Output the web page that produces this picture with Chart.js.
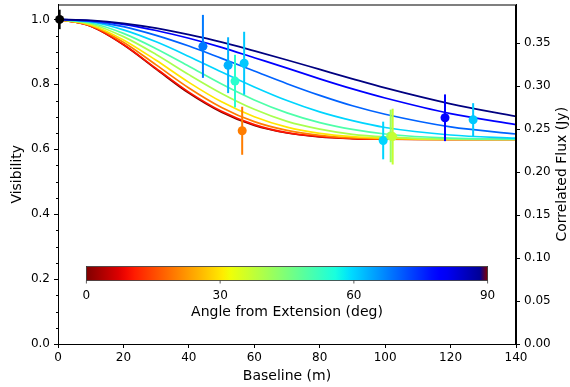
<!DOCTYPE html>
<html>
<head>
<meta charset="utf-8">
<script src="https://cdn.jsdelivr.net/npm/chart.js@4.4.0/dist/chart.umd.min.js"></script>
<style>
  html, body { margin: 0; padding: 0; background: #fff; }
  #wrap { width: 570px; height: 387px; }
</style>
</head>
<body>
<div id="wrap"><canvas id="vis_chart" width="570" height="387"></canvas></div>
<script>
// model curves, one per angle from extension (deg)
const baselines = [0, 10, 20, 30, 40, 50, 60, 70, 80, 90, 100, 120, 140];
const angles = [0, 10, 20, 30, 40, 50, 60, 70, 80, 90];
const vis0  = [1.0, 0.979, 0.922, 0.847, 0.773, 0.714, 0.673, 0.650, 0.638, 0.633, 0.631, 0.630, 0.630];
const vis10 = [1.0, 0.979, 0.923, 0.849, 0.776, 0.717, 0.676, 0.651, 0.639, 0.633, 0.631, 0.630, 0.630];
const vis20 = [1.0, 0.981, 0.930, 0.860, 0.789, 0.729, 0.685, 0.658, 0.643, 0.635, 0.632, 0.630, 0.630];
const vis30 = [1.0, 0.983, 0.937, 0.874, 0.806, 0.746, 0.700, 0.668, 0.649, 0.639, 0.634, 0.630, 0.630];
const vis40 = [1.0, 0.986, 0.947, 0.892, 0.830, 0.772, 0.723, 0.686, 0.662, 0.646, 0.638, 0.631, 0.630];
const vis50 = [1.0, 0.989, 0.957, 0.910, 0.856, 0.801, 0.752, 0.712, 0.682, 0.661, 0.647, 0.634, 0.631];
const vis60 = [1.0, 0.992, 0.968, 0.931, 0.886, 0.838, 0.792, 0.750, 0.715, 0.688, 0.667, 0.644, 0.634];
const vis70 = [1.0, 0.994, 0.978, 0.951, 0.918, 0.880, 0.841, 0.802, 0.766, 0.734, 0.708, 0.669, 0.647];
const vis80 = [1.0, 0.996, 0.985, 0.966, 0.942, 0.914, 0.882, 0.850, 0.817, 0.786, 0.758, 0.710, 0.676];
const vis90 = [1.0, 0.997, 0.988, 0.973, 0.953, 0.930, 0.903, 0.875, 0.846, 0.817, 0.789, 0.740, 0.701];
const visCurves = [vis0, vis10, vis20, vis30, vis40, vis50, vis60, vis70, vis80, vis90];

// measured visibilities
const ptBaseline = [0.5, 44.3, 52.0, 54.1, 56.9, 56.3, 99.4, 101.7, 102.3, 118.3, 126.9];
const ptVis      = [1.0, 0.917, 0.859, 0.810, 0.865, 0.657, 0.627, 0.641, 0.639, 0.697, 0.691];
const ptErr      = [0.03, 0.097, 0.086, 0.081, 0.097, 0.074, 0.058, 0.081, 0.086, 0.072, 0.051];
const ptAngle    = [null, 68, 63, 54, 61, 20, 60, 42, 37, 79, 61];

const cbTicks = [0, 30, 60, 90];
const visMax = 1.046;
const fluxMax = 0.395;

function jet(v){
    const lerp = (pts, x) => {
        for (let i = 0; i < pts.length - 1; i++){
            const [x0, y0] = pts[i], [x1, y1] = pts[i + 1];
            if (x >= x0 && x <= x1) return y0 + (y1 - y0) * (x - x0) / (x1 - x0);
        }
        return pts[pts.length - 1][1];
    };
    const r = lerp([[0,0],[0.35,0],[0.66,1],[0.89,1],[1,0.5]], v);
    const g = lerp([[0,0],[0.125,0],[0.375,1],[0.64,1],[0.91,0],[1,0]], v);
    const b = lerp([[0,0.5],[0.11,1],[0.34,1],[0.65,0],[1,0]], v);
    return 'rgb(' + Math.round(r*255) + ',' + Math.round(g*255) + ',' + Math.round(b*255) + ')';
}
// jet reversed: 0 deg = dark red, 90 deg = dark blue
const angleColor = a => a === null ? '#000' : jet(1 - a / 90);

const datasets = [];

visCurves.forEach((vals, i) => {
    datasets.push({
        data: baselines.map((b, j) => ({x: b, y: vals[j]})),
        borderColor: angleColor(angles[i]),
        borderWidth: 1.7,
        pointRadius: 0,
        cubicInterpolationMode: 'monotone',
        order: 20 - i
    });
});

ptBaseline.forEach((b, i) => {
    datasets.push({
        data: [{x: b, y: ptVis[i] - ptErr[i]}, {x: b, y: ptVis[i] + ptErr[i]}],
        borderColor: angleColor(ptAngle[i]),
        borderWidth: 2,
        pointRadius: 0,
        clip: false,
        order: 5
    });
});

datasets.push({
    data: ptBaseline.map((b, i) => ({x: b, y: ptVis[i]})),
    showLine: false,
    pointRadius: 4.5,
    pointBorderWidth: 0,
    pointBackgroundColor: ptAngle.map(angleColor),
    clip: false,
    order: 0
});

const FONT = 'DejaVu Sans';

const decorations = {
    id: 'decorations',
    afterDraw(chart){
        const ctx = chart.ctx;
        const area = chart.chartArea;
        const yScale = chart.scales.y;
        ctx.save();

        // frame
        ctx.strokeStyle = '#000';
        ctx.lineWidth = 1;
        ctx.strokeRect(area.left + 0.5, area.top + 0.5, area.right - area.left - 1, area.bottom - area.top);

        // minor ticks on visibility axis
        ctx.beginPath();
        for (let k = 1; k * 0.05 < visMax; k++){
            if (k % 4 === 0) continue;
            const py = Math.round(yScale.getPixelForValue(k * 0.05)) + 0.5;
            ctx.moveTo(area.left - 2, py);
            ctx.lineTo(area.left, py);
        }
        ctx.stroke();

        // inset colorbar
        const w = area.right - area.left, h = area.bottom - area.top;
        const cx0 = area.left + 0.062 * w, cx1 = area.left + 0.938 * w;
        const cy0 = area.top + 0.772 * h, cy1 = area.top + 0.813 * h;
        const grad = ctx.createLinearGradient(cx0, 0, cx1, 0);
        for (let t = 0; t <= 1.0001; t += 0.02){
            grad.addColorStop(Math.min(t, 1), angleColor(t * 90));
        }
        ctx.fillStyle = grad;
        ctx.fillRect(cx0, cy0, cx1 - cx0, cy1 - cy0);
        ctx.strokeStyle = '#333';
        ctx.lineWidth = 0.8;
        ctx.strokeRect(cx0, cy0, cx1 - cx0, cy1 - cy0);

        ctx.fillStyle = '#000';
        ctx.font = '12px "' + FONT + '"';
        ctx.textAlign = 'center';
        ctx.textBaseline = 'middle';
        cbTicks.forEach(a => {
            const px = cx0 + (cx1 - cx0) * a / 90;
            ctx.beginPath();
            ctx.moveTo(px, cy1);
            ctx.lineTo(px, cy1 + 3);
            ctx.stroke();
            ctx.fillText(String(a), px, cy1 + 15);
        });
        ctx.font = '14px "' + FONT + '"';
        ctx.fillText('Angle from Extension (deg)', (cx0 + cx1) / 2, cy1 + 32);

        // axis titles
        const midY = (area.top + area.bottom) / 2;
        ctx.save();
        ctx.translate(17, midY);
        ctx.rotate(-Math.PI / 2);
        ctx.fillText('Visibility', 0, 0);
        ctx.restore();
        ctx.save();
        ctx.translate(562, midY);
        ctx.rotate(-Math.PI / 2);
        ctx.fillText('Correlated Flux (Jy)', 0, 0);
        ctx.restore();
        ctx.fillText('Baseline (m)', (area.left + area.right) / 2, 376);

        ctx.restore();
    }
};

const tickFont = {family: FONT, size: 12};

// pin the plot area to the same box as the original figure
const fitVertical = width => s => {
    s.width = width;
    s.paddingTop = 0;
    s.paddingBottom = 0;
};

new Chart(document.getElementById('vis_chart'), {
    type: 'line',
    data: {datasets: datasets},
    options: {
        responsive: false,
        animation: false,
        devicePixelRatio: 1,
        layout: {padding: {top: 2, left: 0, right: 0, bottom: 0}},
        plugins: {
            legend: {display: false},
            tooltip: {enabled: false}
        },
        scales: {
            x: {
                type: 'linear',
                min: 0,
                max: 140,
                ticks: {stepSize: 20, color: '#000', font: tickFont, padding: 3, maxRotation: 0},
                grid: {drawOnChartArea: false, tickLength: 4, color: '#000'},
                border: {color: '#000'},
                afterFit: s => { s.height = 43; s.paddingLeft = 0; s.paddingRight = 0; }
            },
            y: {
                position: 'left',
                min: 0,
                max: visMax,
                ticks: {stepSize: 0.2, includeBounds: false, color: '#000', font: tickFont, padding: 4,
                    callback: v => v.toFixed(1)},
                grid: {drawOnChartArea: false, tickLength: 4, color: '#000'},
                border: {color: '#000'},
                afterFit: fitVertical(58)
            },
            y1: {
                position: 'right',
                display: true,
                min: 0,
                max: fluxMax,
                ticks: {stepSize: 0.05, includeBounds: false, color: '#000', font: tickFont, padding: 4,
                    callback: v => v.toFixed(2)},
                grid: {drawOnChartArea: false, tickLength: 4, color: '#000'},
                border: {color: '#000'},
                afterFit: fitVertical(54)
            }
        }
    },
    plugins: [decorations]
});
</script>
</body>
</html>
